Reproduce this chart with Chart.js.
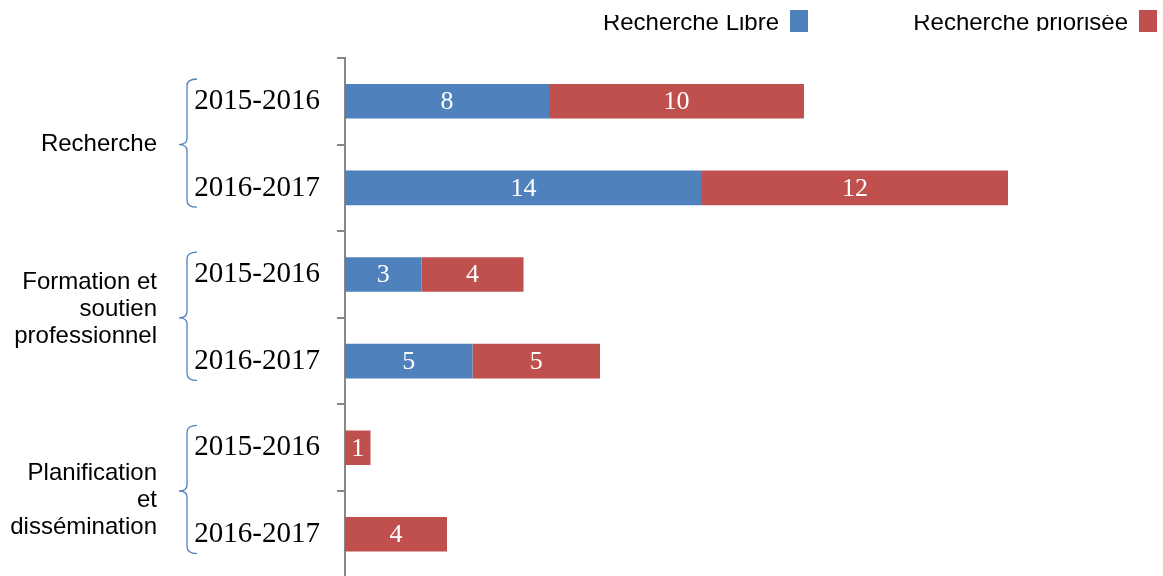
<!DOCTYPE html>
<html>
<head>
<meta charset="utf-8">
<script src="https://cdn.jsdelivr.net/npm/chart.js@4"></script>
<style>
  html, body { margin: 0; padding: 0; overflow: hidden; background: #fff; }
</style>
</head>
<body>
<canvas id="plot" width="1163" height="612"></canvas>
<script>
// Data
const years = ['2015-2016', '2016-2017', '2015-2016', '2016-2017', '2015-2016', '2016-2017'];
const groups = [['Recherche'], ['Formation et', 'soutien', 'professionnel'], ['Planification', 'et', 'dissémination']];
const seriesNames = ['Recherche Libre', 'Recherche priorisée'];
const libre = [8, 14, 3, 5, 0, 0];
const priorisee = [10, 12, 4, 5, 1, 4];

const colors = ['#4F81BD', '#C0504D'];
const groupShift = [0, -8, 9]; // vertical nudge of each group label block

// white value labels in the middle of each segment
const valueLabels = {
    id: 'valueLabels',
    afterDatasetsDraw(chart) {
        const ctx = chart.ctx;
        ctx.save();
        ctx.fillStyle = '#fff';
        ctx.font = '26px "Liberation Serif"';
        ctx.textAlign = 'center';
        ctx.textBaseline = 'middle';
        chart.data.datasets.forEach((ds, i) => {
            chart.getDatasetMeta(i).data.forEach((bar, j) => {
                if (!ds.data[j]) return;
                const p = bar.getCenterPoint();
                ctx.fillText(ds.data[j], p.x, p.y + 1);
            });
        });
        ctx.restore();
    }
};

// group names with braces on the left
const groupLabels = {
    id: 'groupLabels',
    afterDraw(chart) {
        const ctx = chart.ctx;
        const y = chart.scales.y;
        ctx.save();
        groups.forEach((lines, g) => {
            const a = y.getPixelForValue(2 * g);
            const b = y.getPixelForValue(2 * g + 1);
            const half = (b - a) / 2;
            const top = a - half + 21;
            const bottom = b + half - 24;
            const mid = (a + b) / 2;

            // brace
            ctx.strokeStyle = '#4F81BD';
            ctx.lineWidth = 1.3;
            ctx.beginPath();
            ctx.moveTo(197, top);
            ctx.quadraticCurveTo(187, top, 187, top + 7);
            ctx.lineTo(187, mid - 6);
            ctx.quadraticCurveTo(187, mid, 179, mid);
            ctx.quadraticCurveTo(187, mid, 187, mid + 6);
            ctx.lineTo(187, bottom - 7);
            ctx.quadraticCurveTo(187, bottom, 197, bottom);
            ctx.stroke();

            // text
            ctx.fillStyle = '#000';
            ctx.font = '24px "Liberation Sans"';
            ctx.textAlign = 'right';
            ctx.textBaseline = 'middle';
            const lh = 27;
            const c = mid + groupShift[g];
            lines.forEach((t, k) => {
                ctx.fillText(t, 157, c + (k - (lines.length - 1) / 2) * lh);
            });
        });
        ctx.restore();
    }
};

// legend: text first, box after it, cut at the top of the picture
const topLegend = {
    id: 'topLegend',
    afterDraw(chart) {
        const ctx = chart.ctx;
        const ends = [779, 1128];
        ctx.save();
        ctx.font = '24px "Liberation Sans"';
        ctx.textAlign = 'right';
        ctx.textBaseline = 'alphabetic';
        seriesNames.forEach((name, i) => {
            ctx.save();
            ctx.beginPath();
            ctx.rect(0, 15, 1163, 16);
            ctx.clip();
            ctx.fillStyle = '#000';
            ctx.fillText(name, ends[i], 30);
            ctx.restore();
            ctx.fillStyle = colors[i];
            ctx.fillRect(ends[i] + 11, 10, 18, 22);
        });
        ctx.restore();
    }
};

const ctx = document.getElementById('plot');
let plot = new Chart(ctx, {
    type: 'bar',
    data: {
        labels: years,
        datasets: [{
            label: seriesNames[0],
            data: libre,
            backgroundColor: colors[0],
            borderWidth: 0
        }, {
            label: seriesNames[1],
            data: priorisee,
            backgroundColor: colors[1],
            borderWidth: 0
        }]
    },
    options: {
        indexAxis: 'y',
        responsive: false,
        animation: false,
        devicePixelRatio: 1,
        categoryPercentage: 1,
        barPercentage: 0.4,
        layout: { padding: { left: 0, top: 58, right: 2, bottom: 0 } },
        plugins: {
            legend: { display: false },
            tooltip: { enabled: false }
        },
        scales: {
            x: {
                stacked: true,
                display: false,
                min: 0,
                max: 32
            },
            y: {
                stacked: true,
                afterFit(s) { s.width = 345; },
                border: { display: true, color: '#888', width: 2 },
                grid: {
                    offset: true,
                    drawOnChartArea: false,
                    drawTicks: true,
                    tickLength: 8,
                    color: '#888',
                    lineWidth: 2
                },
                ticks: {
                    autoSkip: false,
                    color: '#000',
                    padding: 17,
                    font: { family: 'Liberation Serif', size: 29 }
                }
            }
        }
    },
    plugins: [valueLabels, groupLabels, topLegend]
});
</script>
</body>
</html>
